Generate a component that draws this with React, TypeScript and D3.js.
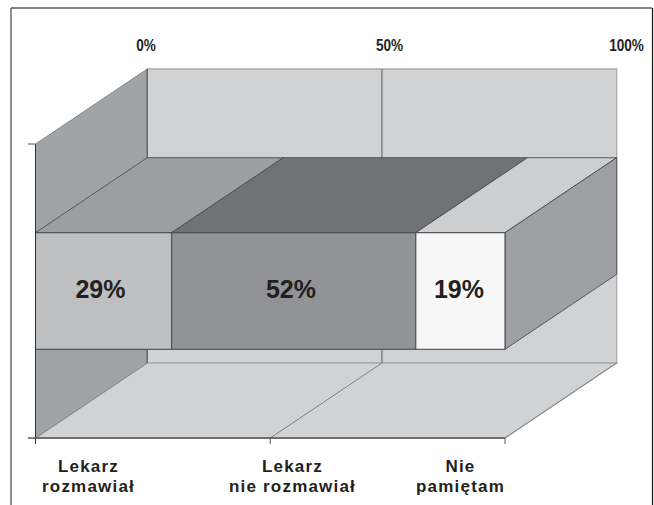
import React from "react";
import * as d3 from "d3";

const categories = ["Lekarz rozmawiał", "Lekarz nie rozmawiał", "Nie pamiętam"];
const shares = [29, 52, 19];
const axisTicks = [0, 50, 100];
const frontFills = ["#bebfc1", "#929396", "#f7f7f8"];
const topFills = ["#9d9ea1", "#717276", "#cdced0"];
const categoryLines = [["Lekarz", "rozmawiał"], ["Lekarz", "nie rozmawiał"], ["Nie", "pamiętam"]];
const categoryLabelX = [88.5, 292.5, 460.5];
const valueLabelX = [100.5, 291, 459];
const topLabelX = [146, 389.5, 626.5];

const W = 654, H = 505;
const DX = 111.7, DY = -75;
const x = d3.scaleLinear().domain([0, 100]).range([35.5, 505]);
const y = d3.scaleBand<string>().domain(["all"]).range([144, 438]).padding(0.432);
const line = d3.line<[number, number]>();

const shift = (p: [number, number]): [number, number] => [p[0] + DX, p[1] + DY];
const poly = (pts: [number, number][]) => line(pts)! + "Z";

export default function App() {
  const y0 = y("all")!, y1 = y0 + y.bandwidth();
  const top = y.range()[0], bottom = y.range()[1];
  const x0 = x(0), x100 = x(100);
  const cum = d3.cumsum(shares);
  const segs = shares.map((s, i) => ({ a: x(cum[i] - s), b: x(cum[i]), i }));
  const edge = "#4c4d4f";
  return (
    <svg width={W} height={H} style={{ position: "absolute", left: 0, top: 0, background: "#fff" }}
      fontFamily="'Liberation Sans', Arial, sans-serif" fontWeight="bold">
      {/* outer frame */}
      <line x1={11} y1={505} x2={11} y2={8} stroke="#6a6a6a" strokeWidth={1.5} />
      <line x1={11} y1={8} x2={652} y2={8} stroke="#5c5c5c" strokeWidth={1.5} />
      <line x1={652.5} y1={8} x2={652.5} y2={505} stroke="#111" strokeWidth={1.2} />

      {/* back wall */}
      <path d={poly([shift([x0, top]), shift([x100, top]), shift([x100, bottom]), shift([x0, bottom])])}
        fill="#d1d2d4" stroke="#a9abad" strokeWidth={1.3} />
      {/* left wall */}
      <path d={poly([[x0, top], shift([x0, top]), shift([x0, bottom]), [x0, bottom]])}
        fill="#a1a4a6" stroke="#77797b" strokeWidth={0.8} />
      {/* floor */}
      <path d={poly([[x0, bottom], [x100, bottom], shift([x100, bottom]), shift([x0, bottom])])}
        fill="#d1d2d4" stroke="#a9abad" strokeWidth={1.3} />
      <line x1={shift([x0, top])[0]} y1={shift([x0, top])[1]} x2={shift([x0, bottom])[0]} y2={shift([x0, bottom])[1]}
        stroke="#66686a" strokeWidth={1.4} />
      <line x1={x0} y1={bottom} x2={shift([x0, bottom])[0]} y2={shift([x0, bottom])[1]} stroke="#77797b" strokeWidth={0.8} />
      <line x1={x100} y1={bottom} x2={shift([x100, bottom])[0]} y2={shift([x100, bottom])[1]} stroke="#77797b" strokeWidth={0.8} />
      {/* 50% gridline */}
      <line x1={shift([x(50), top])[0]} y1={shift([x(50), top])[1]} x2={shift([x(50), bottom])[0]} y2={shift([x(50), bottom])[1]}
        stroke="#55575a" strokeWidth={1} />
      <line x1={x(50)} y1={bottom} x2={shift([x(50), bottom])[0]} y2={shift([x(50), bottom])[1]} stroke="#66686a" strokeWidth={0.8} />

      {/* bar: tops */}
      {segs.map(s => (
        <path key={"t" + s.i} d={poly([[s.a, y0], [s.b, y0], shift([s.b, y0]), shift([s.a, y0])])}
          fill={topFills[s.i]} stroke={edge} strokeWidth={0.9} />
      ))}
      {/* bar: right side */}
      <path d={poly([[x100, y0], shift([x100, y0]), shift([x100, y1]), [x100, y1]])}
        fill="#9fa0a3" stroke={edge} strokeWidth={0.9} />
      {/* bar: fronts */}
      {segs.map(s => (
        <rect key={"f" + s.i} x={s.a} y={y0} width={s.b - s.a} height={y1 - y0}
          fill={frontFills[s.i]} stroke={edge} strokeWidth={1.1} />
      ))}
      {segs.map(s => (
        <text key={"v" + s.i} x={valueLabelX[s.i]} y={298} textAnchor="middle" fontSize={25} fill="#231f20">
          {shares[s.i]}%
        </text>
      ))}

      {/* axes */}
      <line x1={x0} y1={top} x2={x0} y2={bottom + 6} stroke="#333" strokeWidth={1} />
      <line x1={28} y1={top} x2={x0} y2={top} stroke="#555" strokeWidth={1} />
      <line x1={28} y1={bottom} x2={x100} y2={bottom} stroke="#55575a" strokeWidth={1.3} />
      {axisTicks.slice(1).map(t => (
        <line key={t} x1={x(t)} y1={bottom} x2={x(t)} y2={bottom + 6} stroke="#55575a" strokeWidth={1} />
      ))}

      {/* top axis labels */}
      {axisTicks.map((t, i) => (
        <text key={t} transform={`translate(${topLabelX[i]},51) scale(0.8,1)`} textAnchor="middle" fontSize={17} fill="#231f20">
          {t}%
        </text>
      ))}

      {/* category labels */}
      {categories.map((c, i) => (
        <text key={c} textAnchor="middle" fontSize={17} fill="#231f20" letterSpacing={1.2}>
          {categoryLines[i].map((l, j) => (
            <tspan key={j} x={categoryLabelX[i]} y={471.7 + j * 20}>{l}</tspan>
          ))}
        </text>
      ))}
    </svg>
  );
}
